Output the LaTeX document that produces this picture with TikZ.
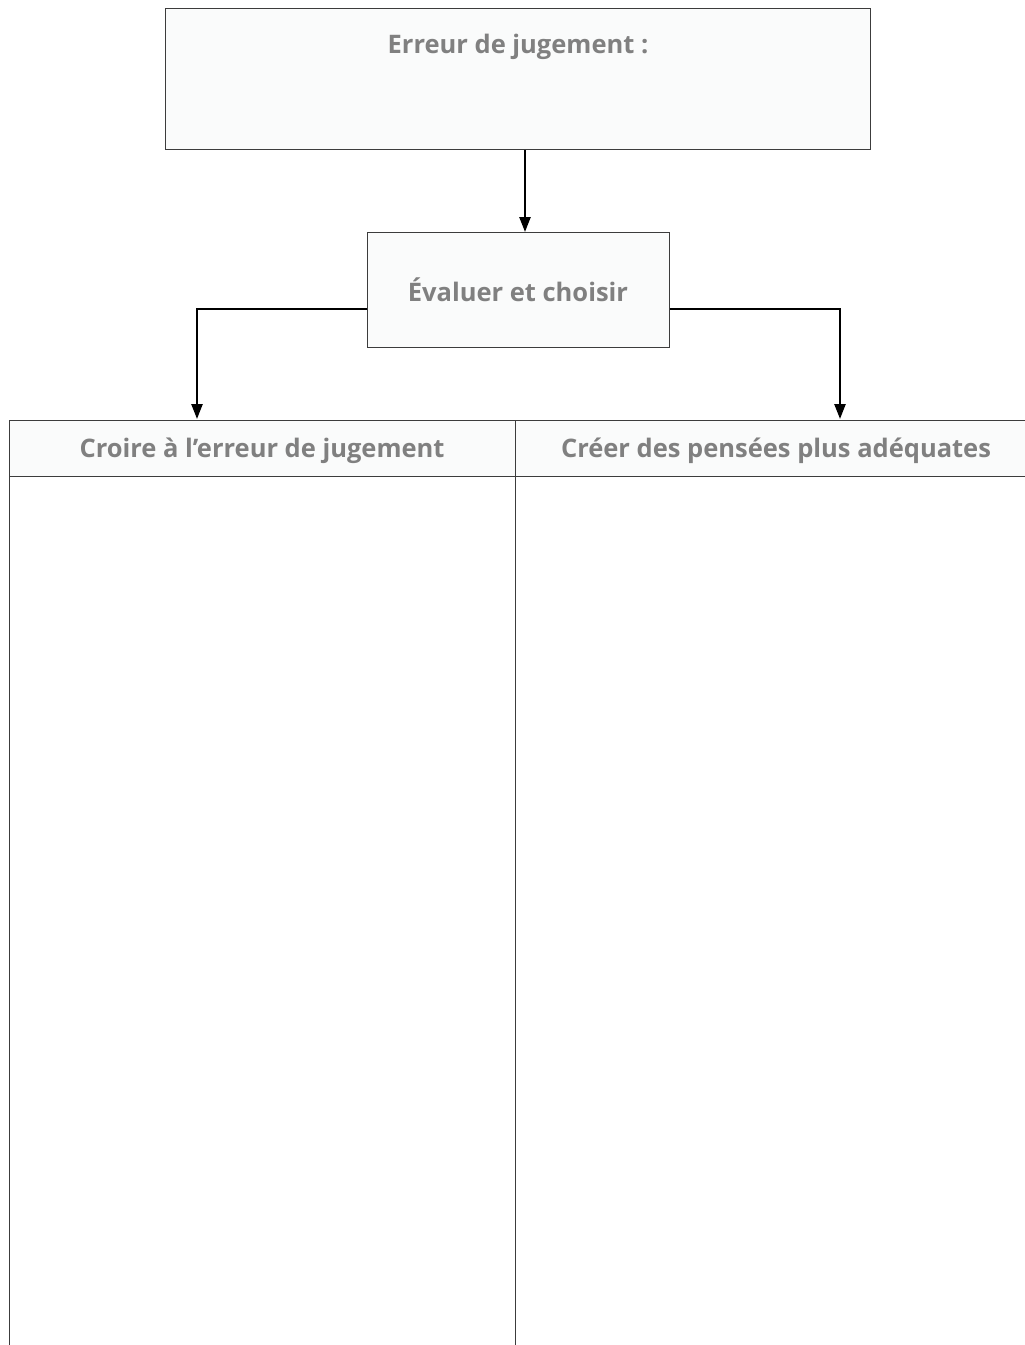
\documentclass[tikz,border=0pt]{standalone}
\usepackage{fontspec}
\setmainfont{Open Sans}
\usetikzlibrary{arrows.meta}
\definecolor{boxfill}{HTML}{FAFBFB}
\definecolor{txtgray}{HTML}{808080}
\definecolor{linegray}{HTML}{3C3C3C}
\begin{document}
\begin{tikzpicture}[x=1pt,y=-1pt,
  box/.style={draw=linegray,line width=0.9pt,fill=boxfill,inner sep=0pt},
  lbl/.style={text=txtgray,font=\bfseries\fontsize{25.5}{30}\selectfont,inner sep=0pt},
  conn/.style={line width=2.4pt,-{Triangle[width=11pt,length=15pt]}},
  grid/.style={draw=linegray,line width=1pt}]
\useasboundingbox (0,0) rectangle (1025,1345);
% top box
\node[box,minimum width=705pt,minimum height=141pt,anchor=north west] (top) at (165,8) {};
\node[lbl] (toplbl) at (518,47) {Erreur de jugement :};
% middle box
\node[box,minimum width=302pt,minimum height=115pt,anchor=north west] (mid) at (367,232) {};
\node[lbl] (midlbl) at (518,290) {Évaluer et choisir};
% table
\fill[boxfill] (9,420) rectangle (1025,476);
\draw[grid] (1025,420) -- (9,420) -- (9,1345);
\draw[grid] (9,476) -- (1025,476);
\draw[grid] (515,420) -- (515,1345);
\node[lbl] (lefthead) at (262,451) {Croire à l’erreur de jugement};
\node[lbl] (righthead) at (776,451) {Créer des pensées plus adéquates};
\coordinate (la) at (197,419);
\coordinate (ra) at (840,419);
% connectors
\draw[conn] (top.south -| 525,0) -- (mid.north -| 525,0);
\draw[conn] (mid.west |- 0,309) -| (la);
\draw[conn] (mid.east |- 0,309) -| (ra);
\end{tikzpicture}
\end{document}
